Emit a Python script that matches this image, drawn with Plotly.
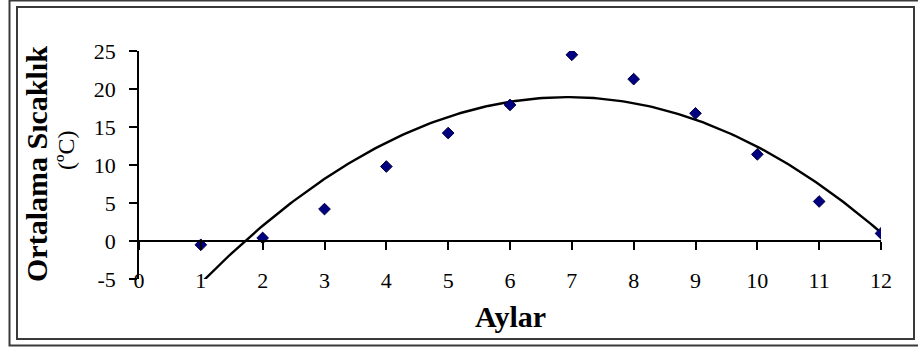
import numpy as np
import plotly.graph_objects as go

# Data
months = [1, 2, 3, 4, 5, 6, 7, 8, 9, 10, 11, 12]
temps = [-0.5, 0.4, 4.2, 9.8, 14.2, 17.9, 24.5, 21.3, 16.8, 11.4, 5.2, 1.0]
x_ticks = list(range(0, 13))
y_ticks = [-5, 0, 5, 10, 15, 20, 25]
x_title = "Aylar"
y_title_1 = "Ortalama Sıcaklık"
y_title_2 = "(ºC)"

# Second-order polynomial trendline fitted to the data
coef = np.polyfit(months, temps, 2)
trend_x = np.linspace(min(months), max(months), 200)
trend_y = np.polyval(coef, trend_x)

W, H = 918, 349
L, R, T, B = 139, 37, 51, 70
PW = W - L - R
PH = H - T - B


def px_x(p):
    return (p - L) / PW


def px_y(p):
    return (H - B - p) / PH


FONT = "Liberation Serif, Times New Roman, serif"

fig = go.Figure()
fig.add_trace(go.Scatter(
    x=trend_x, y=trend_y, mode="lines",
    line=dict(color="black", width=2.4),
    hoverinfo="skip", showlegend=False,
))
fig.add_trace(go.Scatter(
    x=months, y=temps, mode="markers",
    marker=dict(symbol="diamond", size=9, color="#000080",
                line=dict(color="#000040", width=1)),
    showlegend=False,
))

fig.update_layout(
    width=W, height=H,
    margin=dict(l=L, r=R, t=T, b=B),
    paper_bgcolor="white", plot_bgcolor="white",
    font=dict(family=FONT, color="black", size=22),
    xaxis=dict(
        range=[0, 12], tickmode="array", tickvals=x_ticks,
        ticktext=[str(v) for v in x_ticks],
        anchor="free", position=1 / 6,
        showline=True, linecolor="black", linewidth=1.5,
        ticks="outside", ticklen=8, tickwidth=1.5, tickcolor="black",
        ticklabelstandoff=12,
        showgrid=False, zeroline=False,
        tickfont=dict(family=FONT, size=22, color="black"),
    ),
    yaxis=dict(
        range=[-5, 25], tickmode="array", tickvals=y_ticks,
        ticktext=[str(v) for v in y_ticks],
        showline=True, linecolor="black", linewidth=1.5,
        ticks="outside", ticklen=8, tickwidth=1.5, tickcolor="black",
        ticklabelstandoff=9,
        showgrid=False, zeroline=False,
        tickfont=dict(family=FONT, size=22, color="black"),
    ),
)

annotations = [
    dict(text="<b>%s</b>" % x_title, xref="paper", yref="paper",
         x=0.5, y=px_y(316), xanchor="center", yanchor="middle",
         showarrow=False, font=dict(family=FONT, size=30, color="black")),
    dict(text="<b>%s</b>" % y_title_1, xref="paper", yref="paper",
         x=px_x(36), y=px_y(164), xanchor="center", yanchor="middle",
         textangle=-90, showarrow=False,
         font=dict(family=FONT, size=30, color="black")),
    dict(text=y_title_2, xref="paper", yref="paper",
         x=px_x(66), y=px_y(151), xanchor="center", yanchor="middle",
         textangle=-90, showarrow=False,
         font=dict(family=FONT, size=24, color="black")),
]
fig.update_layout(annotations=annotations)

# double frame around the chart
shapes = [
    dict(type="rect", xref="paper", yref="paper",
         x0=px_x(9.5), x1=px_x(930), y0=px_y(345.5), y1=px_y(0.5),
         line=dict(color="#3a3a3a", width=2), fillcolor="rgba(0,0,0,0)"),
    dict(type="rect", xref="paper", yref="paper",
         x0=px_x(17), x1=px_x(914), y0=px_y(339), y1=px_y(7),
         line=dict(color="#3a3a3a", width=2), fillcolor="rgba(0,0,0,0)"),
]
fig.update_layout(shapes=shapes)

fig.write_html("out.html")
